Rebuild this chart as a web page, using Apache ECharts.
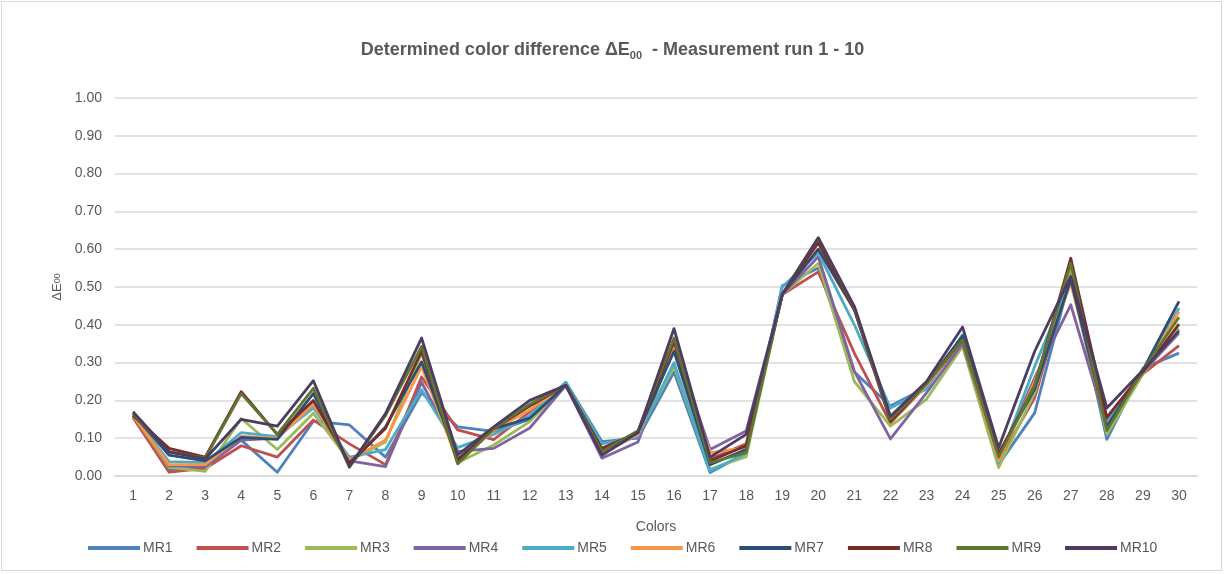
<!DOCTYPE html>
<html>
<head>
<meta charset="utf-8">
<script src="https://cdn.jsdelivr.net/npm/echarts@6/dist/echarts.min.js"></script>
<style>
html,body{margin:0;padding:0;background:#fff;}
#wrap{position:absolute;left:1px;top:1px;width:1221px;height:570px;border:1px solid #d9d9d9;box-sizing:border-box;}
#chart{position:absolute;left:0;top:0;width:1225px;height:574px;}
</style>
</head>
<body>
<div id="wrap"></div>
<div id="chart"></div>
<script>
const categories = ['1','2','3','4','5','6','7','8','9','10','11','12','13','14','15','16','17','18','19','20','21','22','23','24','25','26','27','28','29','30'];
const yTicks = [0, 0.1, 0.2, 0.3, 0.4, 0.5, 0.6, 0.7, 0.8, 0.9, 1.0];
const seriesNames = ['MR1','MR2','MR3','MR4','MR5','MR6','MR7','MR8','MR9','MR10'];
const MR1 = [0.16,0.015,0.025,0.095,0.01,0.145,0.135,0.05,0.22,0.13,0.118,0.15,0.248,0.091,0.10,0.275,0.009,0.06,0.503,0.55,0.275,0.185,0.235,0.365,0.03,0.167,0.53,0.097,0.285,0.325];
const MR2 = [0.155,0.01,0.02,0.08,0.05,0.148,0.085,0.03,0.262,0.122,0.096,0.17,0.24,0.06,0.11,0.34,0.045,0.085,0.48,0.54,0.325,0.14,0.24,0.355,0.04,0.207,0.54,0.15,0.27,0.345];
const MR3 = [0.16,0.023,0.012,0.152,0.07,0.166,0.04,0.09,0.325,0.035,0.082,0.144,0.24,0.06,0.11,0.29,0.018,0.051,0.48,0.563,0.25,0.132,0.203,0.343,0.022,0.22,0.55,0.11,0.27,0.39];
const MR4 = [0.16,0.027,0.025,0.095,0.10,0.19,0.04,0.025,0.248,0.065,0.073,0.127,0.24,0.047,0.09,0.35,0.07,0.119,0.48,0.58,0.277,0.098,0.22,0.35,0.044,0.26,0.453,0.13,0.275,0.378];
const MR5 = [0.16,0.038,0.035,0.115,0.104,0.18,0.05,0.07,0.228,0.075,0.11,0.16,0.248,0.085,0.105,0.30,0.013,0.06,0.50,0.59,0.40,0.18,0.23,0.374,0.035,0.29,0.52,0.14,0.28,0.444];
const MR6 = [0.16,0.03,0.03,0.105,0.10,0.19,0.042,0.095,0.29,0.04,0.12,0.175,0.24,0.065,0.11,0.34,0.062,0.075,0.48,0.60,0.44,0.15,0.24,0.36,0.04,0.25,0.51,0.13,0.275,0.435];
const MR7 = [0.165,0.055,0.04,0.102,0.097,0.218,0.03,0.13,0.302,0.045,0.125,0.153,0.24,0.07,0.115,0.33,0.03,0.07,0.48,0.60,0.44,0.155,0.245,0.37,0.06,0.23,0.52,0.13,0.28,0.462];
const MR8 = [0.16,0.073,0.05,0.223,0.11,0.20,0.035,0.126,0.33,0.04,0.125,0.185,0.24,0.073,0.115,0.356,0.04,0.08,0.48,0.617,0.44,0.145,0.245,0.36,0.057,0.24,0.576,0.155,0.275,0.402];
const MR9 = [0.165,0.064,0.047,0.218,0.11,0.232,0.023,0.16,0.343,0.032,0.125,0.19,0.24,0.065,0.12,0.365,0.035,0.062,0.48,0.63,0.445,0.15,0.245,0.36,0.05,0.24,0.563,0.12,0.28,0.42];
const MR10 = [0.17,0.064,0.045,0.15,0.132,0.252,0.025,0.165,0.365,0.056,0.13,0.20,0.24,0.055,0.115,0.39,0.05,0.11,0.48,0.63,0.449,0.158,0.25,0.394,0.075,0.33,0.528,0.18,0.28,0.384];
const seriesData = [MR1,MR2,MR3,MR4,MR5,MR6,MR7,MR8,MR9,MR10];
const colors = ['#4F81BD','#C0504D','#9BBB59','#8064A2','#4BACC6','#F79646','#2C4D75','#772C2A','#5F7530','#4D3B62'];

const FONT = '"Liberation Sans", Arial, sans-serif';
const GRAY = '#595959';
const chart = echarts.init(document.getElementById('chart'), null, {renderer:'canvas'});
chart.setOption({
  animation:false,
  color: colors,
  title: {
    text: 'Determined color difference ΔE{sub|00}  - Measurement run 1 - 10',
    left: 'center', top: 35,
    textStyle: {
      fontFamily: FONT, fontSize: 18, fontWeight: 'bold', color: GRAY,
      rich: { sub: { fontFamily: FONT, fontSize: 11, fontWeight: 'bold', color: GRAY, padding: [10,0,0,0] } }
    }
  },
  legend: {
    bottom: 14, left: 83,
    icon: 'rect', itemWidth: 52, itemHeight: 4, itemGap: 24,
    textStyle: { fontFamily: FONT, fontSize: 14, color: GRAY, padding: [0,0,0,-2] },
    data: seriesNames
  },
  grid: { left: 115, right: 28, top: 98, bottom: 98, containLabel: false },
  xAxis: {
    type: 'category', data: categories, boundaryGap: true,
    name: 'Colors', nameLocation: 'middle', nameGap: 44,
    nameTextStyle: { fontFamily: FONT, fontSize: 14, color: GRAY },
    axisLine: { lineStyle: { color: '#d9d9d9', width: 1.5 } },
    axisTick: { show: false },
    axisLabel: { fontFamily: FONT, fontSize: 14, color: GRAY, margin: 13 }
  },
  yAxis: {
    type: 'value', min: yTicks[0], max: yTicks[yTicks.length-1], interval: 0.1,
    name: 'ΔE{sub|00}', nameLocation: 'middle', nameGap: 46, nameRotate: 90,
    nameTextStyle: { fontFamily: FONT, fontSize: 13, color: GRAY,
      rich: { sub: { fontFamily: FONT, fontSize: 9, color: GRAY } } },
    axisLine: { show: false }, axisTick: { show: false },
    splitLine: { lineStyle: { color: '#d9d9d9', width: 1.5 } },
    axisLabel: { fontFamily: FONT, fontSize: 14, color: GRAY, margin: 13,
      formatter: v => v.toFixed(2) }
  },
  series: seriesData.map((d, i) => ({
    name: seriesNames[i], type: 'line', data: d,
    symbol: 'none', showSymbol: false,
    lineStyle: { width: 2.8, color: colors[i], join: 'round' },
    itemStyle: { color: colors[i] }
  }))
});
</script>
</body>
</html>
